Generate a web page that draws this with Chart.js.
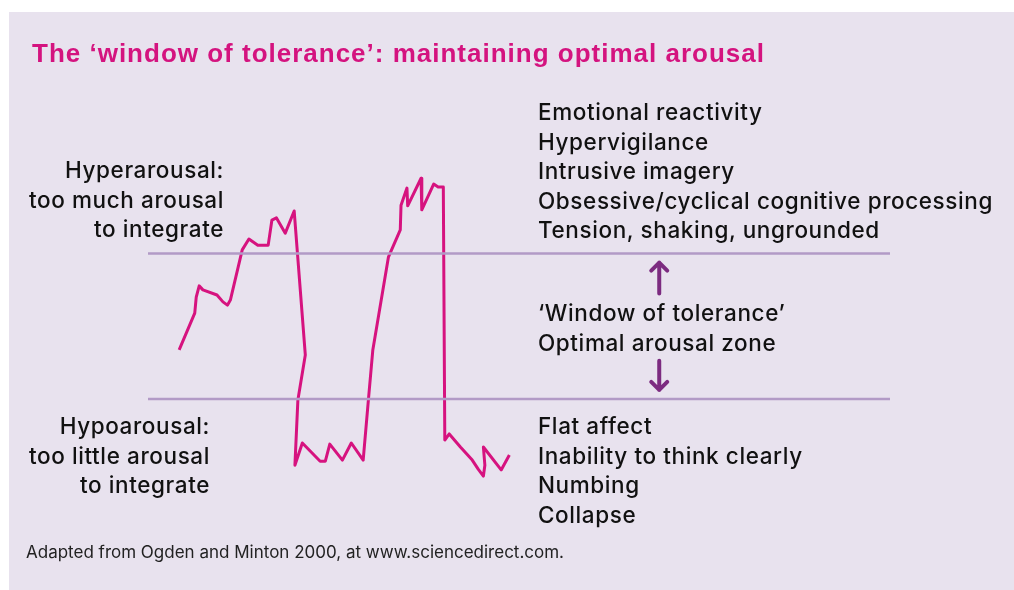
<html lang="en">

<head>
    <meta charset="UTF-8">
    <title>Window of tolerance</title>
    <script src="https://cdn.jsdelivr.net/npm/chart.js"></script>
    <style>
        body { margin: 0; background: #fff; font-family: Inter, "Liberation Sans", Arial, sans-serif; }
        #wrap { position: relative; width: 1014px; height: 590px; overflow: hidden; }
        #panel { position: absolute; left: 9px; top: 12px; right: 0; bottom: 0; background: #e8e2ee; }
        #chart { position: absolute; left: 0; top: 0; }
        .txt { position: absolute; color: #111; font-size: 22.5px; font-weight: 500; letter-spacing: 0.6px; line-height: 29.5px; white-space: nowrap; }
        .right { text-align: right; }
        #title { position: absolute; left: 32px; top: 40px; font-family: "Liberation Sans", Arial, sans-serif; font-size: 26px; line-height: 26px; font-weight: bold; letter-spacing: 1px; color: #d4137f; white-space: nowrap; }
        #note { position: absolute; left: 26px; top: 542px; font-size: 17px; color: #222; white-space: nowrap; }
    </style>
</head>

<body>
    <div id="wrap">
        <div id="panel"></div>
        <canvas id="chart" width="1014" height="590"></canvas>
        <div id="title">The ‘window of tolerance’: maintaining optimal arousal</div>

        <!-- left side labels -->
        <div class="txt right" style="right:790px; top:155px;">Hyperarousal:<br>too much arousal<br>to integrate</div>
        <div class="txt right" style="right:804px; top:411px;">Hypoarousal:<br>too little arousal<br>to integrate</div>

        <!-- right side labels -->
        <div class="txt" style="left:538px; top:97px;">Emotional reactivity<br>Hypervigilance<br>Intrusive imagery<br>Obsessive/cyclical cognitive processing<br>Tension, shaking, ungrounded</div>
        <div class="txt" style="left:538px; top:298px;">‘Window of tolerance’<br>Optimal arousal zone</div>
        <div class="txt" style="left:538px; top:411px;">Flat affect<br>Inability to think clearly<br>Numbing<br>Collapse</div>

        <div id="note">Adapted from Ogden and Minton 2000, at www.sciencedirect.com.</div>
    </div>

    <script>
        // arousal trace, time on x (0-100), arousal level on y (0-10)
        const times = [4.2, 6.3, 6.5, 6.9, 7.4, 9.3, 10.1, 10.7, 11.1, 12.7, 13.6, 14.8, 16.2, 16.7, 17.3, 18.5, 19.7,
            21.2, 20.2, 19.8, 20.8, 23.2, 23.9, 24.5, 26.2, 27.4, 29.0, 29.7, 30.3, 32.4, 34.0, 34.1, 34.9, 35.0,
            36.8, 36.9, 38.5, 39.1, 39.8, 40.0, 40.6, 42.1, 43.7, 44.5, 45.2, 45.4, 45.2, 47.6, 48.7];
        const arousal = [4.35, 5.36, 5.80, 6.11, 6.00, 5.86, 5.67, 5.58, 5.72, 7.10, 7.40, 7.23, 7.23, 7.92, 7.98, 7.56, 8.17,
            4.21, 2.97, 1.18, 1.79, 1.29, 1.29, 1.76, 1.32, 1.79, 1.32, 2.97, 4.35, 6.90, 7.65, 8.33, 8.80, 8.31,
            9.07, 8.20, 8.91, 8.83, 8.83, 1.87, 2.04, 1.68, 1.32, 1.07, 0.88, 1.18, 1.68, 1.05, 1.46];

        // window of tolerance limits
        const upperLimit = 7;
        const lowerLimit = 3;
        const limitSpan = [0, 100];

        // arrows inside the window
        const arrowX = 68.9;
        const arrowUp = [5.9, 6.75];
        const arrowDown = [4.05, 3.25];

        const arrowPlugin = {
            id: 'arrows',
            afterDatasetsDraw(chart) {
                const { ctx, scales: { x, y } } = chart;
                const drawArrow = (from, to) => {
                    const px = x.getPixelForValue(arrowX);
                    const y0 = y.getPixelForValue(from);
                    const y1 = y.getPixelForValue(to);
                    const dir = y1 < y0 ? 1 : -1;
                    ctx.save();
                    ctx.strokeStyle = '#7c2b80';
                    ctx.lineWidth = 4;
                    ctx.lineCap = 'round';
                    ctx.lineJoin = 'round';
                    ctx.beginPath();
                    ctx.moveTo(px, y0);
                    ctx.lineTo(px, y1);
                    ctx.moveTo(px - 8, y1 + dir * 8);
                    ctx.lineTo(px, y1);
                    ctx.lineTo(px + 8, y1 + dir * 8);
                    ctx.stroke();
                    ctx.restore();
                };
                drawArrow(arrowUp[0], arrowUp[1]);
                drawArrow(arrowDown[0], arrowDown[1]);
            }
        };

        const limitLine = (v) => ({
            data: limitSpan.map(t => ({ x: t, y: v })),
            borderColor: '#b29ac6',
            borderWidth: 2.5,
            pointRadius: 0,
            fill: false
        });

        new Chart(document.getElementById('chart'), {
            type: 'line',
            data: {
                datasets: [
                    limitLine(upperLimit),
                    limitLine(lowerLimit),
                    {
                        data: times.map((t, i) => ({ x: t, y: arousal[i] })),
                        borderColor: '#d6137f',
                        borderWidth: 3,
                        borderJoinStyle: 'round',
                        pointRadius: 0,
                        tension: 0,
                        fill: false
                    }
                ]
            },
            options: {
                responsive: false,
                animation: false,
                layout: { padding: { left: 148, right: 124, top: 144.4, bottom: 81.9 } },
                plugins: { legend: { display: false }, tooltip: { enabled: false } },
                scales: {
                    x: { type: 'linear', min: 0, max: 100, display: false },
                    y: { type: 'linear', min: 0, max: 10, display: false }
                }
            },
            plugins: [arrowPlugin]
        });
    </script>
</body>

</html>
